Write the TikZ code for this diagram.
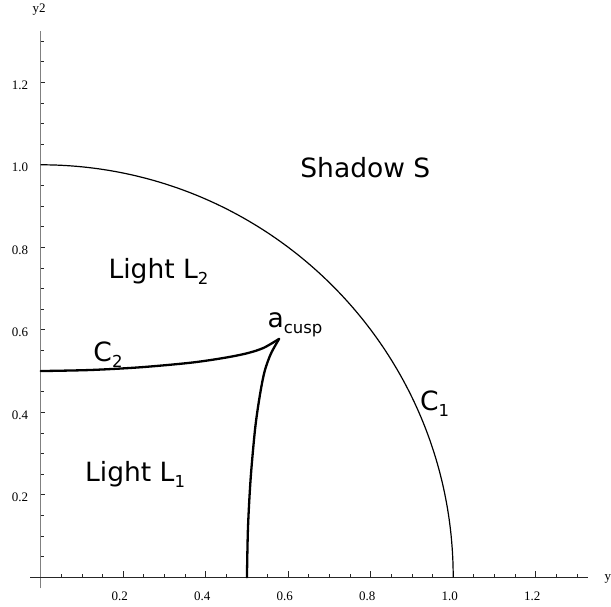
\documentclass[tikz,border=0pt]{standalone}
\usepackage{fontspec}
\setmainfont{Liberation Serif}
\newfontfamily\dvs{DejaVu Sans}
\newcommand\lsub[1]{\raisebox{-6pt}{\fontsize{16.5}{18}\selectfont #1}}
\begin{document}
\begin{tikzpicture}[x=412.5pt,y=412.5pt,
  lab/.style={inner sep=0pt, anchor=base west, font=\dvs\fontsize{26.5}{30}\selectfont},
  ticklab/.style={inner sep=0pt, font=\fontsize{13}{15}\selectfont},
  tickline/.style={line width=0.8pt, black!85},
  cthin/.style={line width=1.2pt},
  cthick/.style={line width=2.3pt, line join=round, line cap=round}]
\useasboundingbox (-40.7pt,-29.7pt) rectangle (570.3pt,577.3pt);
% axes
\coordinate (O) at (0,0);
\coordinate (xl) at (-0.025,0);
\coordinate (xr) at (1.326,0);
\coordinate (yb) at (0,-0.027);
\coordinate (yt) at (0,1.325);
\draw[gray, line width=1.3pt] (yb) -- (yt);
\draw[line width=0.9pt, black!85] (xl) -- (xr);
% minor ticks
\foreach \v in {0.05,0.1,0.15,0.25,0.3,0.35,0.45,0.5,0.55,0.65,0.7,0.75,0.85,0.9,0.95,1.05,1.1,1.15,1.25,1.3}{
  \draw[tickline] (\v,0) -- ++(0,3pt);
  \draw[tickline] (0,\v) -- ++(3pt,0);
}
% major ticks and labels
\foreach \v [count=\k] in {0.2,0.4,0.6,0.8,1.0,1.2}{
  \draw[tickline] (\v,0) -- ++(0,6pt);
  \draw[tickline] (0,\v) -- ++(4.5pt,0);
  \node[ticklab, anchor=base] (xt\k) at ([xshift=-3.5pt,yshift=-23pt]\v,0) {\v};
  \node[ticklab, anchor=base east] (yt\k) at ([xshift=-12.4pt,yshift=-7pt]0,\v) {\v};
}
\node[ticklab, anchor=base] (ylab) at (-1.7pt,565pt) {y2};
\node[ticklab, anchor=base west] (xlab) at (563.6pt,-3pt) {y};
% C1 circle
\coordinate (c1top) at (0,1);
\draw[cthin] (c1top) arc[start angle=90,end angle=0,radius=1];
% C2 curves
\draw[cthick] plot[smooth, tension=0.5] coordinates {(0,0.5) (0.12,0.5025) (0.24,0.509) (0.362,0.52) (0.443,0.5316) (0.50,0.543) (0.54,0.556) (0.578,0.578)};
\draw[cthick] plot[smooth, tension=0.5] coordinates {(0.5,0) (0.5025,0.12) (0.509,0.24) (0.52,0.362) (0.5316,0.443) (0.543,0.50) (0.558,0.542) (0.578,0.578)};
% labels
\node[lab] (shadow) at (259.5pt,399.8pt) {Shadow S};
\node[lab] (l2) at (67.7pt,298.3pt) {Light L\lsub{2}};
\node[lab] (l1) at (44.3pt,95.6pt) {Light L\lsub{1}};
\node[lab] (c2) at (52.6pt,215.6pt) {C\lsub{2}};
\node[lab] (cusp) at (226.7pt,249.5pt) {a\lsub{cusp}};
\node[lab] (c1) at (379.3pt,166.6pt) {C\lsub{1}};
\end{tikzpicture}
\end{document}
